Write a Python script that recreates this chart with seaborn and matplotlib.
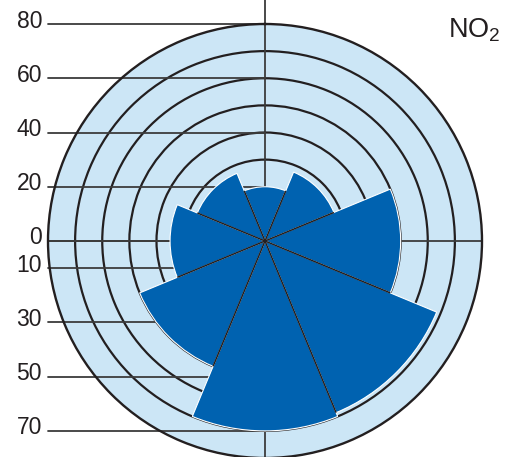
import numpy as np
import pandas as pd
import matplotlib
matplotlib.use("Agg")
import matplotlib.pyplot as plt
from matplotlib.transforms import Affine2D
import seaborn as sns

# Mean NO2 level by wind direction
directions = ["N", "NE", "E", "SE", "S", "SW", "W", "NW"]
no2_values = [20, 27.5, 50, 68.5, 70, 50, 35, 27]

# Radial scale annotations: upper half even, lower half odd
upper_ticks = [80, 60, 40, 20, 0]
lower_ticks = [10, 30, 50, 70]
ring_levels = [30, 40, 50, 60, 70]
r_max = 80

BAR_BLUE = "#0062b0"
FACE_BLUE = "#cce6f6"
INK = "#231f20"
GUIDE = "#3c3c3c"

sns.set_theme(style="white")
plt.rcParams["font.family"] = ["Liberation Sans", "DejaVu Sans"]
plt.rcParams["mathtext.default"] = "regular"

df = pd.DataFrame({
    "direction": directions,
    "angle": np.deg2rad(np.arange(len(directions)) * 45.0),
    "no2": no2_values,
})

W, H = 508, 457
fig = plt.figure(figsize=(W / 100, H / 100), dpi=100)
cx, cy, rad = 265, 241, 217  # pole position (from top-left) and radius, px
ax = fig.add_axes([(cx - rad) / W, (H - cy - rad) / H, 2 * rad / W, 2 * rad / H],
                  projection="polar")
ax.set_theta_zero_location("N")
ax.set_theta_direction(-1)
ax.set_facecolor(FACE_BLUE)

sns.barplot(data=df, x="angle", y="no2", native_scale=True, orient="x",
            width=1.0, color=BAR_BLUE, saturation=1, edgecolor="white",
            linewidth=0.8, errorbar=None, ax=ax, zorder=2)

# Dark spokes between neighbouring sectors, up to the shorter sector
vals = np.asarray(no2_values)
for k in range(len(vals)):
    th = df["angle"].iloc[k] + np.pi / 8
    ax.plot([th, th], [0, min(vals[k], vals[(k + 1) % len(vals)])],
            color=INK, lw=1.1, zorder=3, solid_capstyle="butt")

ax.set_ylim(0, r_max)
ax.set_xticks([])
ax.set_yticks(ring_levels)
ax.set_yticklabels([])
ax.yaxis.grid(True, color=INK, lw=1.6, ls="-")
ax.xaxis.grid(False)
ax.set_axisbelow(True)
ax.set_xlabel("")
ax.set_ylabel("")
ax.spines["polar"].set_color(INK)
ax.spines["polar"].set_linewidth(1.7)

# Cartesian helper transform in radial units, origin at the pole
cart = Affine2D().scale(1 / (2 * r_max)).translate(0.5, 0.5) + ax.transAxes

def guide(x0, x1, y0, y1, lw=1.3):
    ax.plot([x0, x1], [y0, y1], transform=cart, color=GUIDE, lw=lw,
            clip_on=False, zorder=1)

guide(0, 0, -r_max - 10, r_max + 15)
guide(-r_max, r_max, 0, 0)
for v in upper_ticks:
    guide(-r_max, 0, v, v)
    ax.annotate(str(v), xy=(-r_max, v), xycoords=cart, xytext=(-6, 3),
                textcoords="offset pixels", ha="right", va="center",
                fontsize=16.5, color=INK, annotation_clip=False)
for v in lower_ticks:
    guide(-r_max, 0, -v, -v)
    ax.annotate(str(v), xy=(-r_max, -v), xycoords=cart, xytext=(-6, 3),
                textcoords="offset pixels", ha="right", va="center",
                fontsize=16.5, color=INK, annotation_clip=False)

fig.text(448 / W, (H - 38) / H, "NO$_2$", ha="left", va="baseline",
         fontsize=19.5, color=INK)

fig.savefig("out.png", dpi=100)
